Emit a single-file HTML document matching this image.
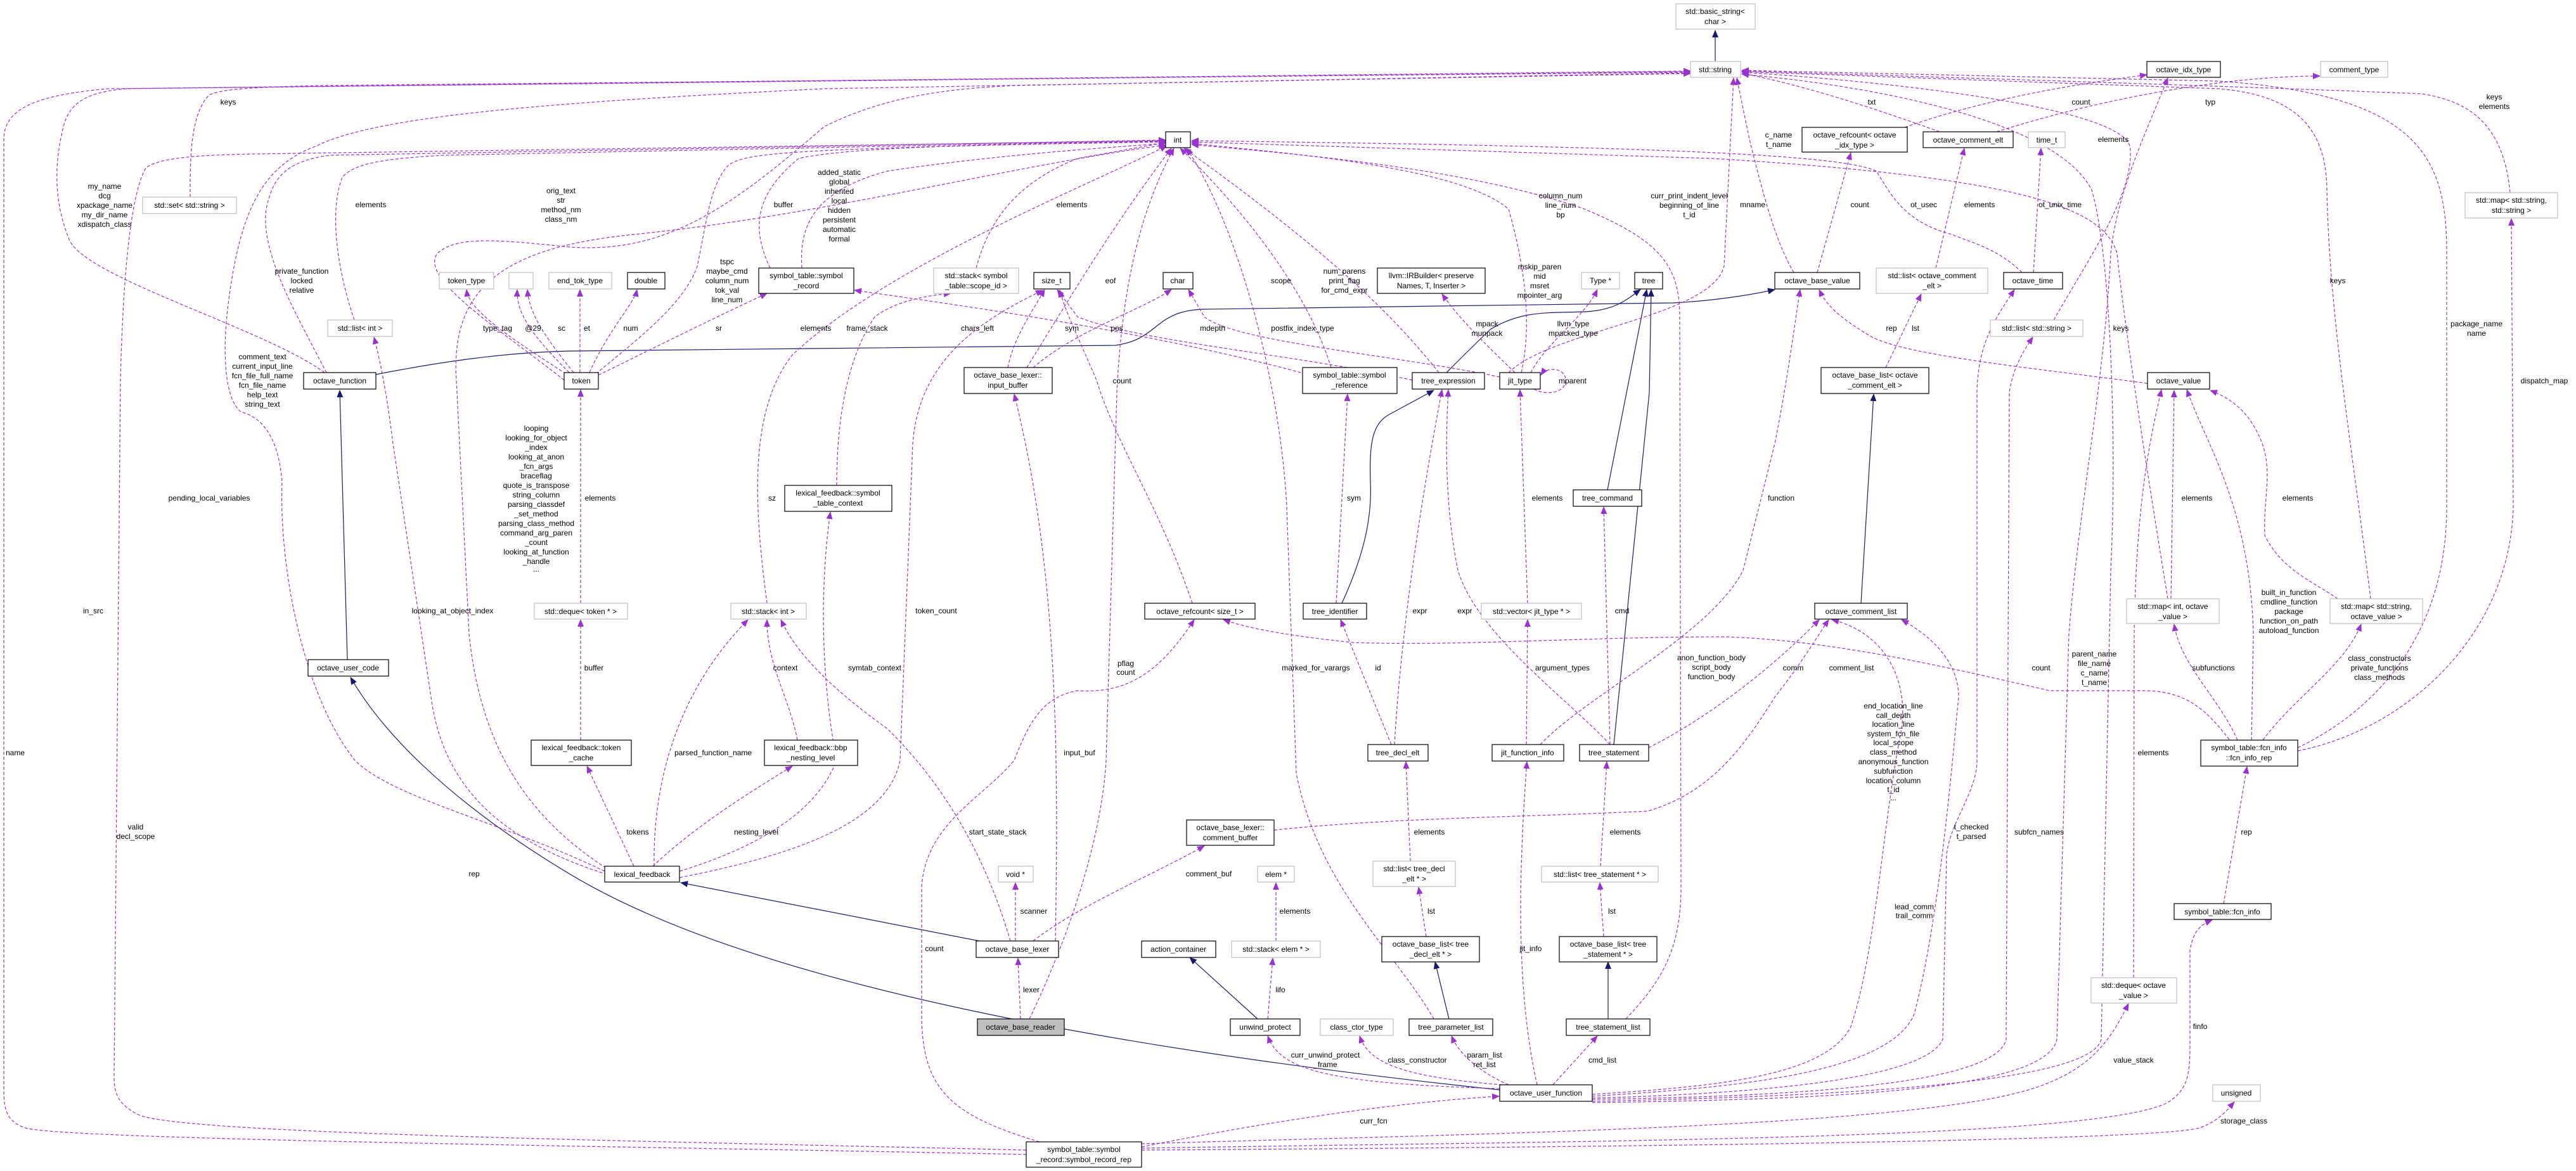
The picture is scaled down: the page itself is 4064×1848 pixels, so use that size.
<!DOCTYPE html>
<html><head><meta charset="utf-8"><style>
html,body{margin:0;padding:0;background:#fff;}
svg{display:block;}
text{font-family:"Liberation Sans",sans-serif;font-size:12px;fill:#000;}
.n rect{fill:#fff;stroke:#000;stroke-width:1.2;}
.g rect{fill:#fff;stroke:#bfbfbf;stroke-width:1.2;}
.d{fill:none;stroke:#9a32cd;stroke-width:1.2;stroke-dasharray:5,3;marker-end:url(#pa);}
.s{fill:none;stroke:#191970;stroke-width:1.2;marker-end:url(#na);}
.l{text-anchor:middle;}
</style></head><body>
<svg width="4064" height="1848" viewBox="0 0 4064 1848" xmlns="http://www.w3.org/2000/svg">
<defs>
<marker id="pa" markerWidth="12" markerHeight="10" refX="11" refY="5" orient="auto" markerUnits="userSpaceOnUse"><path d="M0,0 L12,5 L0,10 z" fill="#9a32cd"/></marker>
<marker id="na" markerWidth="12" markerHeight="10" refX="11" refY="5" orient="auto" markerUnits="userSpaceOnUse"><path d="M0,0 L12,5 L0,10 z" fill="#191970"/></marker>
</defs>

<!-- solid inheritance edges -->
<path class="s" d="M2706,97 L2706,48"/>
<path class="s" d="M548,1041 L536,616"/>
<path class="s" d="M2366,1720 C1800,1660 1200,1560 900,1380 C700,1260 600,1150 553,1069"/>
<path class="s" d="M1545,1485 L1074,1393"/>
<path class="s" d="M593,591 C700,570 800,556 900,554 L1760,545 C1830,535 1820,490 1900,488 L2640,478 C2700,475 2760,466 2800,457"/>
<path class="s" d="M2282,588 C2310,560 2330,540 2351,520 C2400,490 2440,494 2500,492 C2550,490 2570,470 2588,457"/>
<path class="s" d="M2536,773 L2598,457"/>
<path class="s" d="M2546,1175 L2602,620 L2605,457"/>
<path class="s" d="M2117,952 C2150,880 2165,820 2162,760 C2160,700 2165,670 2190,655 L2262,616"/>
<path class="s" d="M2936,952 L2956,622"/>
<path class="s" d="M1984,1608 L1877,1511"/>
<path class="s" d="M2286,1608 L2264,1518"/>
<path class="s" d="M2537,1608 L2537,1518"/>

<!-- dashed edges to std::string -->
<path class="d" d="M1619,1822 C1200,1812 100,1800 40,1780 C10,1770 6,1750 6,1720 L6,220 C6,170 60,150 170,140 L2667,112"/>
<path class="d" d="M512,588 C420,520 140,440 110,380 C85,320 85,260 100,200 C110,160 140,145 200,140 L2667,113"/>
<path class="d" d="M300,311 C300,250 300,180 330,150 C350,140 400,138 500,135 L2667,114"/>
<path class="d" d="M890,600 C790,520 660,440 690,400 C720,370 800,380 900,390 C1050,400 1150,330 1300,200 C1400,150 1500,140 1600,135 L2667,115"/>
<path class="d" d="M954,1375 C800,1300 620,1260 560,1200 C480,1100 440,900 445,760 C440,700 420,660 380,650 C355,630 350,560 360,480 C380,320 420,260 500,230 C600,180 900,160 1300,140 L2667,116"/>
<path class="d" d="M2830,430 C2800,380 2780,300 2760,220 L2740,123"/>
<path class="d" d="M3060,208 C2900,150 2800,125 2748,116"/>
<path class="d" d="M3240,505 C3300,400 3370,300 3360,230 C3340,170 3000,130 2748,114"/>
<path class="d" d="M3960,304 C3950,200 3900,160 3820,148 C3500,135 3000,120 2748,112"/>
<path class="d" d="M3740,945 C3710,700 3675,500 3671,300 C3670,200 3620,150 3500,140 L2748,113"/>
<path class="d" d="M3625,1180 C3750,1120 3860,1000 3860,800 L3860,400 C3860,250 3820,150 3500,128 L2748,111"/>
<path class="d" d="M2380,588 C2450,520 2700,500 2720,420 L2735,123"/>
<path class="d" d="M2512,1738 C2900,1730 3300,1710 3315,1640 L3330,900 C3340,700 3330,400 3300,300 C3250,200 3000,140 2748,117"/>

<!-- dashed edges to int -->
<path class="d" d="M559,505 C530,420 520,330 540,280 C560,255 620,250 700,245 L1839,222"/>
<path class="d" d="M515,588 C470,500 410,400 420,330 C430,280 450,255 520,245 L1839,221"/>
<path class="d" d="M1619,1815 C1000,1800 300,1790 220,1760 C190,1745 180,1730 180,1700 L190,600 C195,400 210,300 230,265 C250,250 300,245 400,243 L1839,222"/>
<path class="d" d="M940,590 C1000,540 1080,480 1100,420 C1115,350 1120,290 1150,260 C1180,240 1250,235 1839,223"/>
<path class="d" d="M1210,952 C1190,800 1180,650 1250,560 C1400,420 1700,300 1841,230"/>
<path class="d" d="M1540,423 C1560,350 1600,290 1700,250 L1839,225"/>
<path class="d" d="M1265,423 C1260,350 1290,300 1400,270 C1600,240 1800,230 1839,226"/>
<path class="d" d="M1215,423 C1180,350 1200,300 1260,250 C1350,230 1600,228 1839,224"/>
<path class="d" d="M1624,1608 C1700,1450 1740,1300 1745,1200 L1762,620 C1770,450 1800,330 1852,234"/>
<path class="d" d="M1620,580 C1700,450 1760,350 1848,234"/>
<path class="d" d="M2262,1608 C2200,1500 2080,1400 2045,1220 L2030,800 C2020,600 1950,350 1872,234"/>
<path class="d" d="M2565,1608 C2620,1550 2652,1500 2652,1400 L2650,500 C2650,420 2620,380 2500,330 C2300,260 2000,240 1880,228"/>
<path class="d" d="M2400,588 C2420,500 2400,400 2380,330 C2300,260 2000,240 1880,226"/>
<path class="d" d="M2270,588 C2200,500 2100,400 1868,234"/>
<path class="d" d="M2100,580 C2060,450 1950,320 1862,234"/>
<path class="d" d="M3190,430 C3150,390 3100,380 3080,370 C3000,350 2980,300 2960,270 C2900,240 2500,230 1880,222"/>
<path class="d" d="M3420,945 C3380,700 3350,500 3340,400 C3320,330 3200,280 2700,250 L1880,224"/>
<path class="d" d="M956,1370 C850,1300 760,1200 740,1000 L720,600 C710,450 800,390 1000,370 C1300,340 1600,260 1839,229"/>
<path class="d" d="M958,1380 C800,1330 700,1250 680,1100 L620,700 C610,620 600,570 590,532"/>

<!-- other dashed edges -->
<path class="d" d="M944,592 C1050,540 1130,500 1210,463"/>
<path class="d" d="M893,590 C800,530 740,490 736,457"/>
<path class="d" d="M898,588 C830,520 815,490 816,457"/>
<path class="d" d="M905,588 C850,520 835,490 832,457"/>
<path class="d" d="M915,588 L915,457"/>
<path class="d" d="M930,588 C960,520 1000,480 1005,457"/>
<path class="d" d="M916,952 L916,615"/>
<path class="d" d="M916,1168 L916,978"/>
<path class="d" d="M1000,1367 L926,1209"/>
<path class="d" d="M1030,1367 C1100,1300 1200,1240 1250,1209"/>
<path class="d" d="M1258,1168 C1245,1100 1210,1050 1210,978"/>
<path class="d" d="M1032,1367 C1030,1250 1060,1100 1180,978"/>
<path class="d" d="M1594,1485 C1540,1300 1450,1200 1400,1150 C1330,1100 1260,1040 1232,978"/>
<path class="d" d="M1072,1375 C1250,1320 1300,1250 1320,1200 C1300,1100 1290,950 1310,808"/>
<path class="d" d="M1320,766 C1320,650 1340,560 1380,500 C1420,470 1480,465 1500,463"/>
<path class="d" d="M1590,580 C1600,530 1630,490 1648,457"/>
<path class="d" d="M1665,1485 C1670,1200 1670,900 1600,622"/>
<path class="d" d="M1072,1385 C1250,1350 1400,1300 1420,1200 L1440,700 C1450,560 1560,500 1645,458"/>
<path class="d" d="M1881,952 C1830,800 1760,700 1730,600 C1700,530 1680,490 1672,458"/>
<path class="d" d="M1640,1802 C1500,1760 1454,1720 1454,1600 L1454,1400 C1460,1300 1550,1260 1600,1200 C1620,1150 1640,1100 1700,1090 C1780,1095 1830,1060 1884,978"/>
<path class="d" d="M1630,1485 C1700,1430 1820,1380 1900,1335"/>
<path class="d" d="M2010,1310 C2200,1290 2400,1290 2600,1280 C2700,1250 2750,1180 2800,1100 C2840,1050 2870,1000 2885,978"/>
<path class="d" d="M1602,1485 L1602,1393"/>
<path class="d" d="M1610,1608 L1606,1512"/>
<path class="d" d="M2000,1608 L2008,1512"/>
<path class="d" d="M2013,1485 L2013,1393"/>
<path class="d" d="M2250,1478 L2238,1400"/>
<path class="d" d="M2530,1478 L2524,1393"/>
<path class="d" d="M2225,1359 L2218,1202"/>
<path class="d" d="M2525,1367 L2535,1202"/>
<path class="d" d="M2195,1175 L2115,978"/>
<path class="d" d="M2200,1175 C2210,1000 2240,800 2275,615"/>
<path class="d" d="M2540,1175 C2470,1100 2330,1000 2300,900 C2280,800 2280,700 2285,615"/>
<path class="d" d="M2540,1175 L2530,800"/>
<path class="d" d="M2408,1175 L2410,978"/>
<path class="d" d="M2410,952 L2398,615"/>
<path class="d" d="M2425,1712 C2400,1600 2390,1450 2409,1202"/>
<path class="d" d="M2380,1712 C2330,1690 2300,1660 2290,1635"/>
<path class="d" d="M2370,1712 C2220,1700 2160,1680 2145,1635"/>
<path class="d" d="M2366,1718 C2100,1710 2020,1690 2000,1635"/>
<path class="d" d="M2450,1712 L2520,1635"/>
<path class="d" d="M1801,1810 C2000,1770 2200,1740 2365,1730"/>
<path class="d" d="M2512,1727 C2700,1715 2880,1700 2920,1620 C2960,1500 2970,1300 3000,1150 C3010,1080 2980,1000 2890,978"/>
<path class="d" d="M2512,1730 C2700,1718 2980,1700 3020,1600 C3060,1450 3080,1200 3090,1100 C3090,1040 3040,1000 3000,978"/>
<path class="d" d="M2512,1733 C2800,1725 3040,1700 3065,1640 L3071,1350 C3075,1300 3119,1250 3119,1200 L3119,620 C3120,540 3150,500 3178,457"/>
<path class="d" d="M2512,1735 C2850,1730 3150,1710 3165,1640 L3170,620 C3175,580 3195,550 3207,532"/>
<path class="d" d="M2512,1740 C2900,1735 3230,1720 3245,1640 L3264,1000 C3280,800 3320,600 3330,400 C3340,300 3390,200 3420,123"/>
<path class="d" d="M3366,1543 L3367,1000 C3370,800 3390,700 3410,615"/>
<path class="d" d="M1801,1805 C2300,1790 3000,1780 3200,1720 C3300,1690 3330,1640 3358,1584"/>
<path class="d" d="M1801,1812 C2500,1800 3300,1800 3420,1740 C3450,1720 3455,1700 3455,1650 L3455,1500 C3460,1470 3470,1460 3490,1452"/>
<path class="d" d="M1801,1815 C2600,1810 3400,1800 3470,1780 C3500,1770 3515,1750 3525,1739"/>
<path class="d" d="M3508,1426 L3545,1210"/>
<path class="d" d="M3517,1167 C3480,1120 3450,1090 3380,1090 L3234,1090 C3100,1060 2900,1010 2720,1005 C2500,1005 2300,1020 2135,1014 C2050,1005 1980,995 1930,978"/>
<path class="d" d="M3530,1168 C3500,1100 3440,1050 3430,985"/>
<path class="d" d="M3570,1168 C3620,1100 3700,1050 3725,985"/>
<path class="d" d="M3552,1168 L3555,1000 C3550,800 3480,700 3450,615"/>
<path class="d" d="M3625,1185 C3800,1150 3960,1000 3965,800 L3962,345"/>
<path class="d" d="M3688,945 C3650,918 3600,900 3573,845 C3570,780 3590,735 3560,680 C3540,641 3510,625 3487,616"/>
<path class="d" d="M3425,945 L3430,616"/>
<path class="d" d="M3388,605 C3200,580 3000,560 2950,530 C2900,500 2880,480 2870,457"/>
<path class="d" d="M2867,430 L2920,241"/>
<path class="d" d="M3005,201 C3150,150 3300,130 3387,118"/>
<path class="d" d="M3150,208 C3300,160 3500,120 3660,120"/>
<path class="d" d="M3054,423 L3099,234"/>
<path class="d" d="M2975,580 L3031,464"/>
<path class="d" d="M3208,430 L3220,234"/>
<path class="d" d="M2420,614 C2440,625 2470,620 2470,600 C2470,580 2440,578 2431,592"/>
<path class="d" d="M2415,588 C2440,540 2500,500 2520,457"/>
<path class="d" d="M2390,588 C2340,540 2300,500 2275,464"/>
<path class="d" d="M2366,595 C2200,560 1950,540 1900,500 L1875,457"/>
<path class="d" d="M2060,590 C1800,520 1500,480 1348,458"/>
<path class="d" d="M2108,952 L2126,622"/>
<path class="d" d="M2228,600 C2050,560 1800,540 1700,500 L1668,457"/>
<path class="d" d="M2601,1180 C2700,1130 2800,1050 2870,978"/>
<path class="d" d="M2430,1175 C2500,1100 2700,1000 2750,900 L2800,700 C2820,600 2830,520 2840,457"/>
<path class="d" d="M1630,580 C1700,520 1800,490 1848,457"/>

<!-- nodes -->
<g class="g"><rect x="2644" y="6" width="125" height="40"/><text class="l" x="2706" y="22">std::basic_string&lt;</text><text class="l" x="2706" y="38">char &gt;</text></g>
<g class="g"><rect x="2667" y="97" width="79" height="25"/><text class="l" x="2706" y="114">std::string</text></g>
<g class="n"><rect x="1839" y="208" width="39" height="25"/><text class="l" x="1858" y="225">int</text></g>
<g class="g"><rect x="225" y="311" width="148" height="26"/><text class="l" x="299" y="328">std::set&lt; std::string &gt;</text></g>
<g class="g"><rect x="517" y="505" width="102" height="26"/><text class="l" x="568" y="522">std::list&lt; int &gt;</text></g>
<g class="g"><rect x="693" y="430" width="86" height="26"/><text class="l" x="736" y="447">token_type</text></g>
<g class="g"><rect x="803" y="430" width="38" height="26"/></g>
<g class="g"><rect x="866" y="430" width="99" height="26"/><text class="l" x="915" y="447">end_tok_type</text></g>
<g class="n"><rect x="990" y="430" width="59" height="26"/><text class="l" x="1019" y="447">double</text></g>
<g class="n"><rect x="1197" y="423" width="150" height="40"/><text class="l" x="1272" y="439">symbol_table::symbol</text><text class="l" x="1272" y="455">_record</text></g>
<g class="n"><rect x="479" y="588" width="114" height="26"/><text class="l" x="536" y="605">octave_function</text></g>
<g class="n"><rect x="890" y="588" width="54" height="26"/><text class="l" x="917" y="605">token</text></g>
<g class="g"><rect x="1473" y="423" width="134" height="40"/><text class="l" x="1540" y="439">std::stack&lt; symbol</text><text class="l" x="1540" y="455">_table::scope_id &gt;</text></g>
<g class="n"><rect x="1631" y="430" width="57" height="26"/><text class="l" x="1659" y="447">size_t</text></g>
<g class="n"><rect x="1835" y="430" width="47" height="26"/><text class="l" x="1858" y="447">char</text></g>
<g class="n"><rect x="2173" y="423" width="170" height="40"/><text class="l" x="2258" y="439">llvm::IRBuilder&lt; preserve</text><text class="l" x="2258" y="455">Names, T, Inserter &gt;</text></g>
<g class="g"><rect x="2495" y="430" width="60" height="26"/><text class="l" x="2525" y="447">Type *</text></g>
<g class="n"><rect x="2579" y="430" width="44" height="26"/><text class="l" x="2601" y="447">tree</text></g>
<g class="n"><rect x="1521" y="580" width="139" height="41"/><text class="l" x="1590" y="596">octave_base_lexer::</text><text class="l" x="1590" y="612">input_buffer</text></g>
<g class="n"><rect x="2055" y="580" width="149" height="41"/><text class="l" x="2129" y="596">symbol_table::symbol</text><text class="l" x="2129" y="612">_reference</text></g>
<g class="n"><rect x="2228" y="588" width="114" height="26"/><text class="l" x="2285" y="605">tree_expression</text></g>
<g class="n"><rect x="2366" y="588" width="64" height="26"/><text class="l" x="2398" y="605">jit_type</text></g>
<g class="n"><rect x="3387" y="97" width="116" height="25"/><text class="l" x="3445" y="114">octave_idx_type</text></g>
<g class="g"><rect x="3661" y="97" width="106" height="25"/><text class="l" x="3714" y="114">comment_type</text></g>
<g class="n"><rect x="2843" y="201" width="166" height="39"/><text class="l" x="2926" y="217">octave_refcount&lt; octave</text><text class="l" x="2926" y="233">_idx_type &gt;</text></g>
<g class="n"><rect x="3034" y="208" width="142" height="25"/><text class="l" x="3105" y="225">octave_comment_elt</text></g>
<g class="g"><rect x="3200" y="208" width="58" height="25"/><text class="l" x="3229" y="225">time_t</text></g>
<g class="g"><rect x="3889" y="304" width="146" height="40"/><text class="l" x="3962" y="320">std::map&lt; std::string,</text><text class="l" x="3962" y="336">std::string &gt;</text></g>
<g class="n"><rect x="2800" y="430" width="134" height="26"/><text class="l" x="2867" y="447">octave_base_value</text></g>
<g class="g"><rect x="2960" y="423" width="176" height="40"/><text class="l" x="3048" y="439">std::list&lt; octave_comment</text><text class="l" x="3048" y="455">_elt &gt;</text></g>
<g class="n"><rect x="3161" y="430" width="93" height="26"/><text class="l" x="3207" y="447">octave_time</text></g>
<g class="g"><rect x="3140" y="505" width="146" height="26"/><text class="l" x="3213" y="522">std::list&lt; std::string &gt;</text></g>
<g class="n"><rect x="2873" y="580" width="170" height="41"/><text class="l" x="2958" y="596">octave_base_list&lt; octave</text><text class="l" x="2958" y="612">_comment_elt &gt;</text></g>
<g class="n"><rect x="3388" y="588" width="98" height="26"/><text class="l" x="3437" y="605">octave_value</text></g>
<g class="n"><rect x="486" y="1041" width="127" height="26"/><text class="l" x="549" y="1058">octave_user_code</text></g>
<g class="g"><rect x="843" y="952" width="147" height="25"/><text class="l" x="916" y="969">std::deque&lt; token * &gt;</text></g>
<g class="g"><rect x="1153" y="952" width="119" height="25"/><text class="l" x="1212" y="969">std::stack&lt; int &gt;</text></g>
<g class="n"><rect x="1238" y="766" width="169" height="41"/><text class="l" x="1322" y="782">lexical_feedback::symbol</text><text class="l" x="1322" y="798">_table_context</text></g>
<g class="n"><rect x="838" y="1168" width="158" height="40"/><text class="l" x="917" y="1184">lexical_feedback::token</text><text class="l" x="917" y="1200">_cache</text></g>
<g class="n"><rect x="1206" y="1168" width="147" height="40"/><text class="l" x="1279" y="1184">lexical_feedback::bbp</text><text class="l" x="1279" y="1200">_nesting_level</text></g>
<g class="n"><rect x="1806" y="952" width="174" height="25"/><text class="l" x="1893" y="969">octave_refcount&lt; size_t &gt;</text></g>
<g class="n"><rect x="2056" y="952" width="100" height="25"/><text class="l" x="2106" y="969">tree_identifier</text></g>
<g class="g"><rect x="2337" y="952" width="158" height="25"/><text class="l" x="2416" y="969">std::vector&lt; jit_type * &gt;</text></g>
<g class="n"><rect x="2482" y="773" width="108" height="26"/><text class="l" x="2536" y="790">tree_command</text></g>
<g class="n"><rect x="2158" y="1175" width="95" height="26"/><text class="l" x="2205" y="1192">tree_decl_elt</text></g>
<g class="n"><rect x="2354" y="1175" width="113" height="26"/><text class="l" x="2410" y="1192">jit_function_info</text></g>
<g class="n"><rect x="2492" y="1175" width="109" height="26"/><text class="l" x="2546" y="1192">tree_statement</text></g>
<g class="n"><rect x="2863" y="952" width="146" height="25"/><text class="l" x="2936" y="969">octave_comment_list</text></g>
<g class="g"><rect x="3355" y="945" width="146" height="39"/><text class="l" x="3428" y="961">std::map&lt; int, octave</text><text class="l" x="3428" y="977">_value &gt;</text></g>
<g class="g"><rect x="3676" y="945" width="146" height="39"/><text class="l" x="3749" y="961">std::map&lt; std::string,</text><text class="l" x="3749" y="977">octave_value &gt;</text></g>
<g class="n"><rect x="3472" y="1168" width="153" height="41"/><text class="l" x="3548" y="1184">symbol_table::fcn_info</text><text class="l" x="3548" y="1200">::fcn_info_rep</text></g>
<g class="n"><rect x="954" y="1367" width="118" height="25"/><text class="l" x="1013" y="1384">lexical_feedback</text></g>
<g class="n"><rect x="1872" y="1294" width="138" height="40"/><text class="l" x="1941" y="1310">octave_base_lexer::</text><text class="l" x="1941" y="1326">comment_buffer</text></g>
<g class="g"><rect x="1575" y="1367" width="55" height="25"/><text class="l" x="1602" y="1384">void *</text></g>
<g class="g"><rect x="1984" y="1367" width="58" height="25"/><text class="l" x="2013" y="1384">elem *</text></g>
<g class="g"><rect x="2166" y="1359" width="130" height="40"/><text class="l" x="2231" y="1375">std::list&lt; tree_decl</text><text class="l" x="2231" y="1391">_elt * &gt;</text></g>
<g class="g"><rect x="2432" y="1367" width="184" height="25"/><text class="l" x="2524" y="1384">std::list&lt; tree_statement * &gt;</text></g>
<g class="n"><rect x="1540" y="1485" width="130" height="26"/><text class="l" x="1605" y="1502">octave_base_lexer</text></g>
<g class="n"><rect x="1801" y="1485" width="117" height="26"/><text class="l" x="1859" y="1502">action_container</text></g>
<g class="g"><rect x="1943" y="1485" width="140" height="26"/><text class="l" x="2013" y="1502">std::stack&lt; elem * &gt;</text></g>
<g class="n"><rect x="2180" y="1478" width="154" height="40"/><text class="l" x="2257" y="1494">octave_base_list&lt; tree</text><text class="l" x="2257" y="1510">_decl_elt * &gt;</text></g>
<g class="n"><rect x="2460" y="1478" width="154" height="40"/><text class="l" x="2537" y="1494">octave_base_list&lt; tree</text><text class="l" x="2537" y="1510">_statement * &gt;</text></g>
<g class="n"><rect x="1542" y="1608" width="137" height="26" style="fill:#bfbfbf"/><text class="l" x="1610" y="1625">octave_base_reader</text></g>
<g class="n"><rect x="1941" y="1608" width="110" height="26"/><text class="l" x="1996" y="1625">unwind_protect</text></g>
<g class="g"><rect x="2083" y="1608" width="115" height="26"/><text class="l" x="2140" y="1625">class_ctor_type</text></g>
<g class="n"><rect x="2223" y="1608" width="132" height="26"/><text class="l" x="2289" y="1625">tree_parameter_list</text></g>
<g class="n"><rect x="2471" y="1608" width="132" height="26"/><text class="l" x="2537" y="1625">tree_statement_list</text></g>
<g class="n"><rect x="2366" y="1712" width="146" height="26"/><text class="l" x="2439" y="1729">octave_user_function</text></g>
<g class="n"><rect x="1619" y="1802" width="182" height="40"/><text class="l" x="1710" y="1818">symbol_table::symbol</text><text class="l" x="1710" y="1834">_record::symbol_record_rep</text></g>
<g class="n"><rect x="3430" y="1426" width="153" height="25"/><text class="l" x="3506" y="1443">symbol_table::fcn_info</text></g>
<g class="g"><rect x="3299" y="1543" width="135" height="40"/><text class="l" x="3366" y="1559">std::deque&lt; octave</text><text class="l" x="3366" y="1575">_value &gt;</text></g>
<g class="g"><rect x="3491" y="1712" width="75" height="26"/><text class="l" x="3528" y="1729">unsigned</text></g>

<!-- edge labels -->
<g class="l">
<text x="360" y="165">keys</text>
<text x="165" y="298">my_name</text><text x="165" y="313">dcg</text><text x="165" y="328">xpackage_name</text><text x="165" y="343">my_dir_name</text><text x="165" y="358">xdispatch_class</text>
<text x="585" y="327">elements</text>
<text x="885" y="305">orig_text</text><text x="885" y="320">str</text><text x="885" y="335">method_nm</text><text x="885" y="350">class_nm</text>
<text x="1236" y="327">buffer</text>
<text x="1324" y="276">added_static</text><text x="1324" y="291">global</text><text x="1324" y="306">inherited</text><text x="1324" y="321">local</text><text x="1324" y="336">hidden</text><text x="1324" y="351">persistent</text><text x="1324" y="366">automatic</text><text x="1324" y="381">formal</text>
<text x="476" y="432">private_function</text><text x="476" y="447">locked</text><text x="476" y="462">relative</text>
<text x="1147" y="417">tspc</text><text x="1147" y="432">maybe_cmd</text><text x="1147" y="447">column_num</text><text x="1147" y="462">tok_val</text><text x="1147" y="477">line_num</text>
<text x="785" y="522">type_tag</text><text x="841" y="522">@29</text><text x="886" y="522">sc</text><text x="926" y="522">et</text><text x="995" y="522">num</text><text x="1134" y="522">sr</text><text x="1287" y="522">elements</text><text x="1368" y="522">frame_stack</text>
<text x="414" y="567">comment_text</text><text x="414" y="582">current_input_line</text><text x="414" y="597">fcn_file_full_name</text><text x="414" y="612">fcn_file_name</text><text x="414" y="627">help_text</text><text x="414" y="642">string_text</text>
<text x="1691" y="327">elements</text><text x="1752" y="447">eof</text><text x="2021" y="447">scope</text>
<text x="2121" y="432">num_parens</text><text x="2121" y="447">print_flag</text><text x="2121" y="462">for_cmd_expr</text>
<text x="2462" y="313">column_num</text><text x="2462" y="328">line_num</text><text x="2462" y="343">bp</text>
<text x="2665" y="313">curr_print_indent_level</text><text x="2665" y="328">beginning_of_line</text><text x="2665" y="343">t_id</text>
<text x="2429" y="425">mskip_paren</text><text x="2429" y="440">mid</text><text x="2429" y="455">msret</text><text x="2429" y="470">mpointer_arg</text>
<text x="1542" y="522">chars_left</text><text x="1691" y="522">sym</text><text x="1762" y="522">pos</text><text x="1913" y="522">mdepth</text><text x="2055" y="522">postfix_index_type</text>
<text x="2346" y="515">mpack</text><text x="2346" y="530">munpack</text>
<text x="2482" y="515">llvm_type</text><text x="2482" y="530">mpacked_type</text>
<text x="2481" y="605">mparent</text><text x="1770" y="605">count</text>
<text x="2953" y="165">txt</text><text x="3283" y="165">count</text><text x="3487" y="165">typ</text>
<text x="3935" y="157">keys</text><text x="3935" y="172">elements</text>
<text x="2806" y="217">c_name</text><text x="2806" y="232">t_name</text>
<text x="2765" y="327">mname</text><text x="2934" y="327">count</text><text x="3035" y="327">ot_usec</text><text x="3123" y="327">elements</text><text x="3250" y="327">ot_unix_time</text>
<text x="3334" y="224">elements</text><text x="3688" y="447">keys</text>
<text x="2984" y="522">rep</text><text x="3022" y="522">lst</text><text x="3346" y="522">keys</text>
<text x="3907" y="515">package_name</text><text x="3907" y="530">name</text>
<text x="4014" y="605">dispatch_map</text>
<text x="330" y="790">pending_local_variables</text>
<text x="846" y="680">looping</text><text x="846" y="695">looking_for_object</text><text x="846" y="710">_index</text><text x="846" y="725">looking_at_anon</text><text x="846" y="740">_fcn_args</text><text x="846" y="755">braceflag</text><text x="846" y="770">quote_is_transpose</text><text x="846" y="785">string_column</text><text x="846" y="800">parsing_classdef</text><text x="846" y="815">_set_method</text><text x="846" y="830">parsing_class_method</text><text x="846" y="845">command_arg_paren</text><text x="846" y="860">_count</text><text x="846" y="875">looking_at_function</text><text x="846" y="890">_handle</text><text x="846" y="902">...</text>
<text x="947" y="790">elements</text><text x="1218" y="790">sz</text>
<text x="147" y="968">in_src</text><text x="714" y="968">looking_at_object_index</text>
<text x="937" y="1058">buffer</text><text x="1239" y="1058">context</text><text x="1380" y="1058">symtab_context</text>
<text x="24" y="1192">name</text><text x="1125" y="1192">parsed_function_name</text>
<text x="1477" y="968">token_count</text><text x="2136" y="790">sym</text><text x="2441" y="790">elements</text>
<text x="2240" y="968">expr</text><text x="2311" y="968">expr</text><text x="2559" y="968">cmd</text>
<text x="1776" y="1051">pflag</text><text x="1776" y="1065">count</text>
<text x="2076" y="1058">marked_for_varargs</text><text x="2174" y="1058">id</text><text x="2465" y="1058">argument_types</text>
<text x="1703" y="1192">input_buf</text>
<text x="2700" y="1042">anon_function_body</text><text x="2700" y="1057">script_body</text><text x="2700" y="1072">function_body</text>
<text x="2810" y="790">function</text><text x="3466" y="790">elements</text><text x="3625" y="790">elements</text>
<text x="3611" y="939">built_in_function</text><text x="3611" y="954">cmdline_function</text><text x="3611" y="969">package</text><text x="3611" y="984">function_on_path</text><text x="3611" y="999">autoload_function</text>
<text x="2829" y="1058">comm</text><text x="2921" y="1058">comment_list</text><text x="3220" y="1058">count</text>
<text x="3304" y="1036">parent_name</text><text x="3304" y="1051">file_name</text><text x="3304" y="1066">c_name</text><text x="3304" y="1081">t_name</text>
<text x="3492" y="1058">subfunctions</text>
<text x="3754" y="1043">class_constructors</text><text x="3754" y="1058">private_functions</text><text x="3754" y="1073">class_methods</text>
<text x="2987" y="1118">end_location_line</text><text x="2987" y="1133">call_depth</text><text x="2987" y="1147">location_line</text><text x="2987" y="1162">system_fcn_file</text><text x="2987" y="1176">local_scope</text><text x="2987" y="1191">class_method</text><text x="2987" y="1206">anonymous_function</text><text x="2987" y="1221">subfunction</text><text x="2987" y="1236">location_column</text><text x="2987" y="1250">t_id</text><text x="2987" y="1263">...</text>
<text x="3397" y="1192">elements</text>
<text x="214" y="1309">valid</text><text x="214" y="1324">decl_scope</text>
<text x="748" y="1383">rep</text><text x="1006" y="1317">tokens</text><text x="1193" y="1317">nesting_level</text>
<text x="1574" y="1317">start_state_stack</text><text x="1907" y="1383">comment_buf</text><text x="2255" y="1317">elements</text><text x="2564" y="1317">elements</text>
<text x="1631" y="1442">scanner</text><text x="2043" y="1442">elements</text><text x="2258" y="1442">lst</text><text x="2543" y="1442">lst</text>
<text x="1474" y="1501">count</text><text x="2415" y="1501">jit_info</text>
<text x="1627" y="1566">lexer</text><text x="2020" y="1566">lifo</text>
<text x="2091" y="1669">curr_unwind_protect</text><text x="2091" y="1684">_frame</text>
<text x="2236" y="1677">class_constructor</text>
<text x="2342" y="1669">param_list</text><text x="2342" y="1684">ret_list</text>
<text x="2528" y="1677">cmd_list</text><text x="2167" y="1773">curr_fcn</text>
<text x="3110" y="1309">t_checked</text><text x="3110" y="1324">t_parsed</text>
<text x="3217" y="1317">subfcn_names</text><text x="3544" y="1317">rep</text>
<text x="3020" y="1435">lead_comm</text><text x="3020" y="1449">trail_comm</text>
<text x="3471" y="1624">finfo</text><text x="3366" y="1677">value_stack</text><text x="3540" y="1773">storage_class</text>
</g>
</svg>
</body></html>
